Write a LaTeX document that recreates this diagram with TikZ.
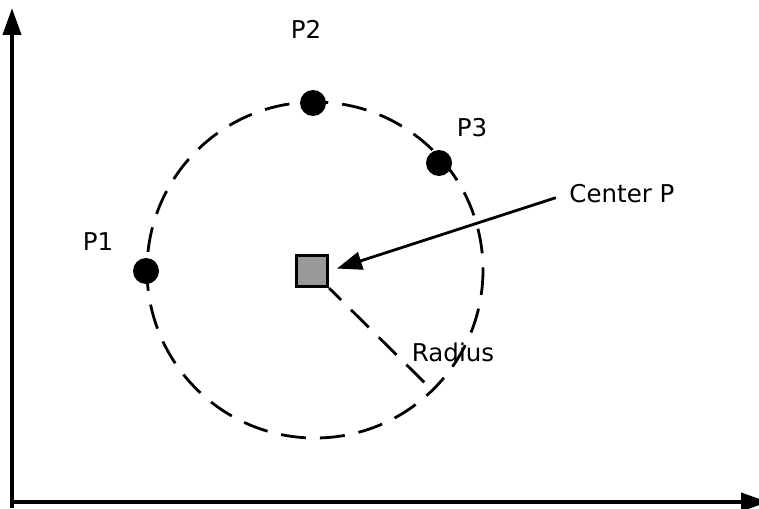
\documentclass[tikz,border=0pt]{standalone}
\usepackage{fontspec}
\setmainfont{DejaVu Sans}
\usetikzlibrary{arrows.meta}

\tikzset{
    pt/.style={circle, fill=black, inner sep=0pt, minimum size=26pt},
    lbl/.style={font=\fontsize{24.5}{30}\selectfont, inner sep=2pt},
    dashline/.style={line width=2.8pt, dash pattern=on 25pt off 14pt},
}

\begin{document}
\begin{tikzpicture}[x=1pt,y=-1pt]
    \useasboundingbox (0,0) rectangle (759,508);

    % axes
    \coordinate (ybot) at (12,508);
    \coordinate (ytop) at (12,8);
    \coordinate (xleft) at (10,502);
    \coordinate (xright) at (768,502);
    \draw[-{Triangle[length=27pt,width=18pt]},line width=4pt] (ybot) -- (ytop);
    \draw[-{Triangle[length=27pt,width=18pt]},line width=4pt] (xleft) -- (xright);

    % circle through the points
    \coordinate (mid) at (315,270);
    \draw[dashline] (mid) circle (168);

    % radius
    \coordinate (rim) at (434,392);
    \draw[dashline, dash phase=8pt] (329,288) -- (rim);

    % center square
    \node[draw, line width=3.8pt, fill=gray!80, minimum size=31pt, inner sep=0pt] (ctr) at (312,271) {};

    \node[pt] (p1) at (146,271) {};
    \node[pt] (p2) at (313,103) {};
    \node[pt] (p3) at (439,163) {};

    \node[lbl] (lp1) at (98,242) {P1};
    \node[lbl] (lp2) at (306,29) {P2};
    \node[lbl] (lp3) at (472,128) {P3};
    \node[lbl] (lcenter) at (622,194) {Center P};
    \node[lbl] (lradius) at (453,352) {Radius};

    \draw[-{Triangle[length=25pt,width=18pt]},line width=2.8pt, shorten <=12pt, shorten >=8pt] (lcenter.west) -- (ctr.east);
\end{tikzpicture}
\end{document}
